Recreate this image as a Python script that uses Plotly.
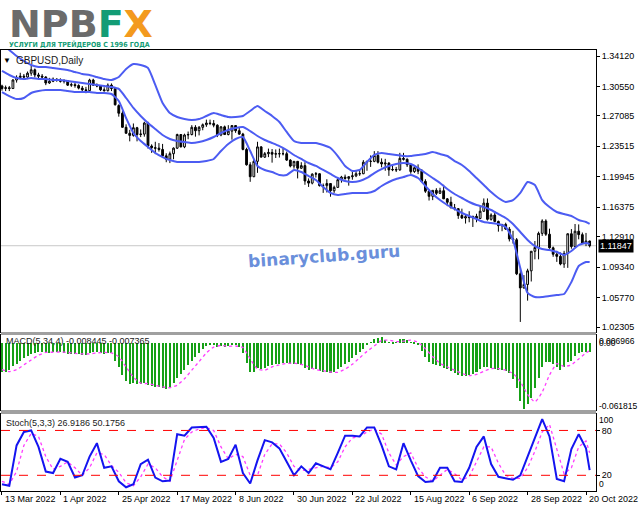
import plotly.graph_objects as go

# ---- data ----
bar_idx = list(range(162))
date_ticks = [0, 16, 32, 48, 64, 80, 96, 112, 128, 144, 160]
date_labels = ['13 Mar 2022', '1 Apr 2022', '25 Apr 2022', '17 May 2022', '8 Jun 2022', '30 Jun 2022',
               '22 Jul 2022', '15 Aug 2022', '6 Sep 2022', '28 Sep 2022', '20 Oct 2022']
price_ticks = [1.34120, 1.30550, 1.27085, 1.23515, 1.19945, 1.16375, 1.12910, 1.09340, 1.05770, 1.02305]
last_price = 1.11847

opens = [1.3060, 1.3030, 1.3040, 1.3030, 1.3130, 1.3160, 1.3175, 1.3165, 1.3210, 1.3250,
         1.3190, 1.3175, 1.3165, 1.3095, 1.3115, 1.3140, 1.3130, 1.3115, 1.3120, 1.3070,
         1.3075, 1.3065, 1.3035, 1.3015, 1.3005, 1.3130, 1.3070, 1.3060, 1.3015, 1.3005,
         1.3070, 1.3030, 1.2830, 1.2740, 1.2575, 1.2505, 1.2480, 1.2570, 1.2490, 1.2495,
         1.2625, 1.2355, 1.2335, 1.2330, 1.2315, 1.2240, 1.2200, 1.2265, 1.2330, 1.2490,
         1.2345, 1.2485, 1.2490, 1.2575, 1.2535, 1.2575, 1.2605, 1.2625, 1.2620, 1.2600,
         1.2485, 1.2580, 1.2490, 1.2530, 1.2595, 1.2535, 1.2495, 1.2315, 1.2135, 1.1995,
         1.2175, 1.2345, 1.2225, 1.2265, 1.2280, 1.2260, 1.2265, 1.2265, 1.2265, 1.2190,
         1.2120, 1.2175, 1.2095, 1.2125, 1.1945, 1.1920, 1.2025, 1.2030, 1.1890, 1.1890,
         1.1915, 1.1830, 1.1870, 1.1960, 1.1990, 1.1975, 1.1995, 1.2005, 1.2030, 1.2030,
         1.2165, 1.2175, 1.2175, 1.2245, 1.2165, 1.2145, 1.2155, 1.2075, 1.2080, 1.2075,
         1.2210, 1.2200, 1.2135, 1.2055, 1.2100, 1.2060, 1.1940, 1.1825, 1.1765, 1.1835,
         1.1800, 1.1830, 1.1735, 1.1695, 1.1630, 1.1620, 1.1540, 1.1510, 1.1525, 1.1515,
         1.1530, 1.1505, 1.1590, 1.1685, 1.1495, 1.1545, 1.1470, 1.1420, 1.1435, 1.1380,
         1.1265, 1.1255, 1.0855, 1.0690, 1.0730, 1.0890, 1.1120, 1.1165, 1.1330, 1.1475,
         1.1320, 1.1160, 1.1085, 1.1060, 1.0970, 1.1095, 1.1325, 1.1175, 1.1355, 1.1315,
         1.1215, 1.1240]
highs = [1.3075, 1.3065, 1.3060, 1.3140, 1.3185, 1.3215, 1.3200, 1.3230, 1.3300, 1.3265,
         1.3215, 1.3200, 1.3175, 1.3155, 1.3160, 1.3150, 1.3150, 1.3140, 1.3130, 1.3100,
         1.3095, 1.3080, 1.3060, 1.3050, 1.3145, 1.3145, 1.3090, 1.3070, 1.3045, 1.3090,
         1.3090, 1.3030, 1.2845, 1.2770, 1.2610, 1.2545, 1.2620, 1.2580, 1.2550, 1.2640,
         1.2640, 1.2375, 1.2405, 1.2390, 1.2380, 1.2270, 1.2290, 1.2340, 1.2500, 1.2495,
         1.2500, 1.2525, 1.2600, 1.2600, 1.2590, 1.2620, 1.2665, 1.2665, 1.2660, 1.2610,
         1.2590, 1.2595, 1.2600, 1.2600, 1.2600, 1.2575, 1.2510, 1.2335, 1.2165, 1.2205,
         1.2405, 1.2355, 1.2285, 1.2325, 1.2320, 1.2315, 1.2325, 1.2330, 1.2290, 1.2200,
         1.2180, 1.2180, 1.2165, 1.2165, 1.1975, 1.2035, 1.2050, 1.2035, 1.1915, 1.1965,
         1.1920, 1.1890, 1.1980, 1.2005, 1.2020, 1.2000, 1.2065, 1.2065, 1.2085, 1.2190,
         1.2180, 1.2245, 1.2295, 1.2295, 1.2210, 1.2205, 1.2165, 1.2125, 1.2110, 1.2275,
         1.2275, 1.2210, 1.2145, 1.2125, 1.2140, 1.2085, 1.1965, 1.1845, 1.1835, 1.1860,
         1.1865, 1.1900, 1.1745, 1.1760, 1.1675, 1.1625, 1.1620, 1.1550, 1.1590, 1.1535,
         1.1560, 1.1650, 1.1740, 1.1740, 1.1565, 1.1590, 1.1480, 1.1440, 1.1455, 1.1405,
         1.1360, 1.1275, 1.0930, 1.0840, 1.0915, 1.1120, 1.1240, 1.1350, 1.1495, 1.1495,
         1.1385, 1.1175, 1.1125, 1.1105, 1.1125, 1.1330, 1.1380, 1.1440, 1.1435, 1.1340,
         1.1335, 1.1245]
lows = [1.3005, 1.3000, 1.3000, 1.3025, 1.3100, 1.3140, 1.3130, 1.3140, 1.3180, 1.3160,
        1.3150, 1.3140, 1.3070, 1.3085, 1.3105, 1.3110, 1.3100, 1.3090, 1.3060, 1.3050,
        1.3040, 1.3020, 1.3000, 1.2975, 1.2995, 1.3060, 1.3045, 1.3000, 1.2995, 1.2995,
        1.3000, 1.2830, 1.2700, 1.2570, 1.2500, 1.2410, 1.2465, 1.2410, 1.2460, 1.2465,
        1.2325, 1.2275, 1.2260, 1.2290, 1.2235, 1.2165, 1.2155, 1.2200, 1.2320, 1.2340,
        1.2330, 1.2435, 1.2480, 1.2465, 1.2480, 1.2540, 1.2580, 1.2600, 1.2575, 1.2460,
        1.2470, 1.2485, 1.2480, 1.2430, 1.2510, 1.2485, 1.2305, 1.2125, 1.1935, 1.1990,
        1.2040, 1.2220, 1.2215, 1.2225, 1.2160, 1.2215, 1.2220, 1.2245, 1.2180, 1.2105,
        1.2090, 1.1975, 1.2085, 1.1900, 1.1875, 1.1905, 1.1985, 1.1880, 1.1805, 1.1810,
        1.1760, 1.1805, 1.1865, 1.1925, 1.1960, 1.1890, 1.1960, 1.1990, 1.2005, 1.2025,
        1.2065, 1.2110, 1.2165, 1.2150, 1.2105, 1.2065, 1.2005, 1.2060, 1.2050, 1.2065,
        1.2185, 1.2110, 1.2030, 1.2040, 1.2025, 1.1935, 1.1805, 1.1715, 1.1720, 1.1780,
        1.1795, 1.1735, 1.1650, 1.1625, 1.1600, 1.1500, 1.1500, 1.1445, 1.1460, 1.1405,
        1.1460, 1.1500, 1.1580, 1.1480, 1.1480, 1.1460, 1.1350, 1.1355, 1.1370, 1.1235,
        1.1210, 1.0840, 1.0290, 1.0680, 1.0540, 1.0765, 1.1025, 1.1025, 1.1300, 1.1300,
        1.1150, 1.1055, 1.0995, 1.0955, 1.0925, 1.0925, 1.1150, 1.1175, 1.1260, 1.1205,
        1.1180, 1.1165]
closes = [1.3030, 1.3040, 1.3030, 1.3130, 1.3160, 1.3175, 1.3165, 1.3210, 1.3250, 1.3190,
          1.3175, 1.3165, 1.3095, 1.3115, 1.3140, 1.3130, 1.3115, 1.3120, 1.3070, 1.3075,
          1.3065, 1.3035, 1.3015, 1.3005, 1.3130, 1.3070, 1.3060, 1.3015, 1.3005, 1.3070,
          1.3030, 1.2840, 1.2740, 1.2575, 1.2505, 1.2480, 1.2570, 1.2490, 1.2495, 1.2625,
          1.2355, 1.2335, 1.2330, 1.2315, 1.2240, 1.2200, 1.2265, 1.2330, 1.2490, 1.2345,
          1.2485, 1.2490, 1.2575, 1.2535, 1.2575, 1.2605, 1.2625, 1.2620, 1.2600, 1.2485,
          1.2580, 1.2490, 1.2530, 1.2595, 1.2535, 1.2495, 1.2315, 1.2135, 1.1995, 1.2175,
          1.2345, 1.2225, 1.2265, 1.2280, 1.2260, 1.2265, 1.2265, 1.2265, 1.2190, 1.2120,
          1.2175, 1.2095, 1.2125, 1.1945, 1.1920, 1.2025, 1.2030, 1.1890, 1.1890, 1.1915,
          1.1830, 1.1870, 1.1960, 1.1990, 1.1975, 1.1995, 1.2005, 1.2030, 1.2030, 1.2165,
          1.2175, 1.2175, 1.2245, 1.2165, 1.2145, 1.2155, 1.2075, 1.2080, 1.2075, 1.2210,
          1.2200, 1.2135, 1.2055, 1.2100, 1.2060, 1.1940, 1.1825, 1.1765, 1.1835, 1.1800,
          1.1830, 1.1735, 1.1695, 1.1630, 1.1620, 1.1540, 1.1510, 1.1525, 1.1515, 1.1530,
          1.1505, 1.1590, 1.1685, 1.1495, 1.1545, 1.1470, 1.1420, 1.1435, 1.1380, 1.1265,
          1.1255, 1.0855, 1.0690, 1.0730, 1.0890, 1.1120, 1.1165, 1.1330, 1.1475, 1.1320,
          1.1160, 1.1085, 1.1060, 1.0970, 1.1095, 1.1325, 1.1175, 1.1355, 1.1315, 1.1215,
          1.1240, 1.11847]

# bands / signal / stochastic read every second bar
band_idx = list(range(0, 162, 2)) + [161]
bb_upper = [1.3553, 1.3482, 1.3412, 1.3353, 1.3306, 1.3283, 1.3283, 1.3271, 1.3259, 1.3248,
            1.3224, 1.3201, 1.3189, 1.3165, 1.3142, 1.3130, 1.3165, 1.3259, 1.3318, 1.3306,
            1.3271, 1.3072, 1.2860, 1.2743, 1.2696, 1.2672, 1.2661, 1.2672, 1.2708, 1.2743,
            1.2719, 1.2696, 1.2696, 1.2708, 1.2766, 1.2825, 1.2766, 1.2708, 1.2637, 1.2520,
            1.2414, 1.2391, 1.2391, 1.2391, 1.2367, 1.2332, 1.2238, 1.2121, 1.2062, 1.2074,
            1.2168, 1.2250, 1.2273, 1.2261, 1.2250, 1.2238, 1.2238, 1.2250, 1.2261, 1.2285,
            1.2261, 1.2238, 1.2179, 1.2132, 1.2062, 1.1980, 1.1898, 1.1815, 1.1745, 1.1698,
            1.1721, 1.1804, 1.1933, 1.1898, 1.1721, 1.1639, 1.1581, 1.1557, 1.1534, 1.1487,
            1.1463, 1.1440]
bb_middle = [1.3236, 1.3189, 1.3154, 1.3142, 1.3154, 1.3142, 1.3142, 1.3130, 1.3130, 1.3119,
             1.3107, 1.3095, 1.3083, 1.3072, 1.3060, 1.3048, 1.3025, 1.2919, 1.2802, 1.2708,
             1.2625, 1.2555, 1.2485, 1.2438, 1.2414, 1.2402, 1.2391, 1.2402, 1.2426, 1.2461,
             1.2508, 1.2543, 1.2567, 1.2578, 1.2531, 1.2473, 1.2426, 1.2391, 1.2355, 1.2308,
             1.2250, 1.2203, 1.2156, 1.2121, 1.2074, 1.2027, 1.1980, 1.1944, 1.1933, 1.1944,
             1.1980, 1.2038, 1.2085, 1.2121, 1.2144, 1.2156, 1.2144, 1.2097, 1.2038, 1.1980,
             1.1921, 1.1851, 1.1792, 1.1745, 1.1698, 1.1663, 1.1639, 1.1604, 1.1557, 1.1510,
             1.1440, 1.1346, 1.1252, 1.1181, 1.1146, 1.1134, 1.1111, 1.1076, 1.1123, 1.1193,
             1.1217, 1.1205]
bb_lower = [1.2989, 1.2942, 1.2907, 1.2919, 1.2978, 1.3001, 1.3013, 1.3013, 1.3013, 1.3001,
            1.2989, 1.2989, 1.2989, 1.2978, 1.2978, 1.2966, 1.2884, 1.2684, 1.2508, 1.2414,
            1.2344, 1.2273, 1.2226, 1.2191, 1.2168, 1.2168, 1.2168, 1.2168, 1.2179, 1.2203,
            1.2297, 1.2379, 1.2438, 1.2461, 1.2297, 1.2121, 1.2074, 1.2050, 1.2015, 1.2015,
            1.2074, 1.2050, 1.2003, 1.1956, 1.1874, 1.1804, 1.1780, 1.1792, 1.1804, 1.1804,
            1.1804, 1.1827, 1.1886, 1.1933, 1.1968, 1.1991, 1.2015, 1.1980, 1.1886, 1.1792,
            1.1721, 1.1663, 1.1616, 1.1569, 1.1534, 1.1498, 1.1463, 1.1451, 1.1440, 1.1404,
            1.1252, 1.0923, 1.0630, 1.0583, 1.0583, 1.0594, 1.0606, 1.0618, 1.0759, 1.0947,
            1.0994, 1.0994]

macd_main = [-0.0274, -0.0272, -0.0256, -0.0220, -0.0202, -0.0166, -0.0138, -0.0120, -0.0102, -0.0093,
             -0.0084, -0.0084, -0.0093, -0.0093, -0.0084, -0.0084, -0.0084, -0.0093, -0.0102, -0.0102,
             -0.0102, -0.0102, -0.0111, -0.0111, -0.0093, -0.0084, -0.0084, -0.0093, -0.0102, -0.0093,
             -0.0093, -0.0166, -0.0229, -0.0301, -0.0356, -0.0383, -0.0374, -0.0383, -0.0383, -0.0374,
             -0.0392, -0.0401, -0.0410, -0.0410, -0.0419, -0.0428, -0.0410, -0.0374, -0.0328, -0.0292,
             -0.0256, -0.0211, -0.0166, -0.0129, -0.0093, -0.0057, -0.0030, -0.0021, -0.0021, -0.0039,
             -0.0030, -0.0039, -0.0030, -0.0021, -0.0021, -0.0039, -0.0093, -0.0184, -0.0274, -0.0274,
             -0.0238, -0.0247, -0.0238, -0.0220, -0.0211, -0.0202, -0.0193, -0.0184, -0.0184, -0.0202,
             -0.0193, -0.0202, -0.0211, -0.0238, -0.0256, -0.0247, -0.0247, -0.0265, -0.0274, -0.0274,
             -0.0283, -0.0274, -0.0247, -0.0229, -0.0202, -0.0175, -0.0138, -0.0111, -0.0084, -0.0057,
             -0.0021, 0.0006, 0.0033, 0.0045, 0.0050, 0.0024, 0.0006, -0.0003, 0.0006, 0.0033,
             0.0033, 0.0024, 0.0006, -0.0003, -0.0021, -0.0075, -0.0129, -0.0175, -0.0193, -0.0211,
             -0.0220, -0.0238, -0.0247, -0.0265, -0.0283, -0.0301, -0.0310, -0.0310, -0.0301, -0.0292,
             -0.0274, -0.0247, -0.0229, -0.0229, -0.0238, -0.0247, -0.0256, -0.0256, -0.0265, -0.0283,
             -0.0337, -0.0419, -0.0537, -0.0618, -0.0573, -0.0510, -0.0419, -0.0328, -0.0229, -0.0175,
             -0.0175, -0.0202, -0.0229, -0.0256, -0.0229, -0.0175, -0.0166, -0.0120, -0.0093, -0.0084,
             -0.0084, -0.008445]
macd_signal = [-0.0250, -0.0268, -0.0250, -0.0205, -0.0160, -0.0115, -0.0090, -0.0088, -0.0086, -0.0090,
               -0.0098, -0.0104, -0.0104, -0.0094, -0.0090, -0.0095, -0.0130, -0.0225, -0.0320, -0.0375,
               -0.0380, -0.0395, -0.0410, -0.0418, -0.0395, -0.0335, -0.0255, -0.0175, -0.0095, -0.0040,
               -0.0025, -0.0033, -0.0030, -0.0045, -0.0150, -0.0245, -0.0255, -0.0225, -0.0205, -0.0192,
               -0.0190, -0.0200, -0.0225, -0.0250, -0.0260, -0.0272, -0.0275, -0.0245, -0.0200, -0.0140,
               -0.0080, -0.0030, 0.0020, 0.0025, 0.0010, 0.0015, 0.0025, 0.0005, -0.0055, -0.0130,
               -0.0190, -0.0225, -0.0255, -0.0285, -0.0305, -0.0295, -0.0265, -0.0240, -0.0240, -0.0255,
               -0.0285, -0.0360, -0.0480, -0.0550, -0.0460, -0.0300, -0.0195, -0.0220, -0.0205, -0.0150,
               -0.0095, -0.007365]

stoch_k = [8, 6, 60, 78, 80, 58, 25, 23, 42, 38,
           17, 20, 45, 63, 30, 32, 12, 4, 8, 35,
           41, 17, 12, 13, 75, 73, 84, 85, 85, 70,
           38, 42, 61, 23, 9, 40, 67, 64, 56, 38,
           20, 32, 23, 36, 32, 28, 50, 73, 73, 72,
           84, 84, 60, 32, 28, 63, 40, 19, 11, 12,
           30, 30, 12, 11, 30, 58, 72, 35, 18, 16,
           14, 20, 45, 70, 95, 72, 15, 12, 55, 75,
           56, 26.9186]
stoch_d = [12, 8, 25, 60, 76, 72, 45, 28, 32, 38,
           30, 20, 30, 50, 48, 33, 24, 10, 6, 18,
           35, 30, 18, 12, 40, 68, 78, 82, 84, 80,
           58, 42, 48, 45, 20, 20, 48, 62, 62, 50,
           32, 26, 28, 30, 32, 30, 38, 58, 70, 72,
           78, 82, 75, 50, 34, 45, 50, 30, 18, 12,
           20, 28, 22, 14, 18, 38, 58, 58, 36, 20,
           16, 16, 30, 52, 78, 88, 55, 22, 30, 58,
           66, 50.1756]

# ---- figure ----
BAND_COL = '#4c5cf2'
LBL_FONT = 'Liberation Sans, Arial, sans-serif'

fig = go.Figure()

fig.add_trace(go.Candlestick(
    x=bar_idx, open=opens, high=highs, low=lows, close=closes, xaxis='x', yaxis='y',
    increasing=dict(line=dict(color='black', width=1), fillcolor='white'),
    decreasing=dict(line=dict(color='black', width=1), fillcolor='black'),
    whiskerwidth=0, hoverinfo='skip', showlegend=False))

for band in (bb_upper, bb_middle, bb_lower):
    fig.add_trace(go.Scatter(x=band_idx, y=band, mode='lines', xaxis='x', yaxis='y',
                             line=dict(color=BAND_COL, width=2, shape='spline', smoothing=0.5),
                             hoverinfo='skip', showlegend=False))

fig.add_trace(go.Bar(x=bar_idx, y=macd_main, xaxis='x2', yaxis='y2', width=0.55,
                     marker=dict(color='#16a016', line=dict(width=0)), hoverinfo='skip', showlegend=False))
fig.add_trace(go.Scatter(x=band_idx, y=macd_signal, mode='lines', xaxis='x2', yaxis='y2',
                         line=dict(color='#ff3cff', width=1.3, dash='dot', shape='spline', smoothing=0.5),
                         hoverinfo='skip', showlegend=False))

fig.add_trace(go.Scatter(x=band_idx, y=stoch_d, mode='lines', xaxis='x3', yaxis='y3',
                         line=dict(color='#ff3cff', width=1.3, dash='dot'),
                         hoverinfo='skip', showlegend=False))
fig.add_trace(go.Scatter(x=band_idx, y=stoch_k, mode='lines', xaxis='x3', yaxis='y3',
                         line=dict(color='#1414f0', width=2),
                         hoverinfo='skip', showlegend=False))

x_range = [-0.27, 162.74]
frame = dict(showgrid=False, zeroline=False, showline=True, mirror=True, linecolor='black', linewidth=1)

fig.update_layout(
    width=639, height=508, margin=dict(l=1, r=43, t=50, b=17),
    paper_bgcolor='white', plot_bgcolor='white', showlegend=False, hovermode=False,
    bargap=0,
    xaxis=dict(domain=[0, 1], anchor='y', range=x_range, showticklabels=False, ticks='',
               rangeslider=dict(visible=False), **frame),
    xaxis2=dict(domain=[0, 1], anchor='y2', range=x_range, matches='x', showticklabels=False, ticks='', **frame),
    xaxis3=dict(domain=[0, 1], anchor='y3', range=x_range, matches='x', showticklabels=False,
                ticks='outside', ticklen=3, tickcolor='black', tickvals=date_ticks, **frame),
    yaxis=dict(domain=[0.3605, 1], anchor='x', range=[1.01718, 1.34824], side='right',
               tickvals=price_ticks, tickformat='.5f', ticks='outside', ticklen=3, tickcolor='black',
               tickfont=dict(family=LBL_FONT, size=9, color='black'), **frame),
    yaxis2=dict(domain=[0.1837, 0.3537], anchor='x2', range=[-0.0625, 0.0072], side='right',
                showticklabels=False, ticks='', **frame),
    yaxis3=dict(domain=[0, 0.1746], anchor='x3', range=[-1, 102], side='right',
                tickvals=[80, 20], ticktext=['80', '20'], ticks='outside', ticklen=3, tickcolor='black',
                tickfont=dict(family=LBL_FONT, size=9, color='black'), **frame),
)

shapes = [
    # panel separators
    dict(type='rect', xref='paper', yref='paper', x0=0, x1=1, y0=0.3537, y1=0.3605,
         fillcolor='#a0a0a0', line=dict(width=0)),
    dict(type='rect', xref='paper', yref='paper', x0=0, x1=1, y0=0.1746, y1=0.1837,
         fillcolor='#a0a0a0', line=dict(width=0)),
    # current price line
    dict(type='line', xref='paper', yref='y', x0=0, x1=1, y0=last_price, y1=last_price,
         line=dict(color='#c8c8c8', width=1), layer='below'),
    # stochastic levels
    dict(type='line', xref='paper', yref='y3', x0=0, x1=1, y0=80, y1=80,
         line=dict(color='#ff0000', width=1, dash='dash')),
    dict(type='line', xref='paper', yref='y3', x0=0, x1=1, y0=20, y1=20,
         line=dict(color='#ff0000', width=1, dash='dash')),
]
fig.update_layout(shapes=shapes)

ann = []
# logo: one text run, F and X coloured
logo_txt = ("<b>NPB<span style='color:#139c75'>F</span>"
            "<span style='color:#f39a1e'>X</span></b>")
ann.append(dict(text=logo_txt, x=0.010, y=1.0590, xref='paper', yref='paper',
                xanchor='left', yanchor='middle', showarrow=False,
                font=dict(family='DejaVu Sans, Arial Black, sans-serif', size=38, color='#6b6b6b')))
ann.append(dict(text='<b>УСЛУГИ ДЛЯ ТРЕЙДЕРОВ С 1996 ГОДА</b>', x=0.010, y=1.0136,
                xref='paper', yref='paper', xanchor='left', yanchor='middle', showarrow=False,
                font=dict(family='DejaVu Sans Condensed, Liberation Sans Narrow, Liberation Sans',
                          size=7, color='#139c75')))

# panel captions
ann.append(dict(text='▼', x=0.0101, y=0.9773, xref='paper', yref='paper', xanchor='center',
                yanchor='middle', showarrow=False, font=dict(family=LBL_FONT, size=8, color='black')))
ann.append(dict(text='GBPUSD,Daily', x=0.0218, y=0.9773, xref='paper', yref='paper', xanchor='left',
                yanchor='middle', showarrow=False, font=dict(family=LBL_FONT, size=10, color='#1a1a1a')))
ann.append(dict(text='MACD(5,34,4) -0.008445 -0.007365', x=0.005, y=0.3401, xref='paper', yref='paper',
                xanchor='left', yanchor='middle', showarrow=False,
                font=dict(family=LBL_FONT, size=9, color='#1a1a1a')))
ann.append(dict(text='Stoch(5,3,3) 26.9186 50.1756', x=0.005, y=0.1542, xref='paper', yref='paper',
                xanchor='left', yanchor='middle', showarrow=False,
                font=dict(family=LBL_FONT, size=9, color='#1a1a1a')))

# right-side scale labels for the sub-windows
for txt, yp in [('0.006966', 0.3401), ('0.00', 0.3356), ('-0.061815', 0.1927), ('100', 0.1610), ('0', 0.0159)]:
    ann.append(dict(text=txt, x=1, y=yp, xref='paper', yref='paper', xanchor='left', yanchor='middle',
                    xshift=1, showarrow=False, font=dict(family=LBL_FONT, size=8.5, color='black')))

# current price tag
ann.append(dict(text='1.11847', x=1, y=last_price, xref='paper', yref='y', xanchor='left',
                yanchor='middle', xshift=2, showarrow=False, bgcolor='black', borderpad=1,
                font=dict(family=LBL_FONT, size=9, color='white')))

# date labels
for pos, lbl in zip(date_ticks, date_labels):
    ann.append(dict(text=lbl, x=pos, y=0, xref='x3', yref='paper', xanchor='left', yanchor='top',
                    xshift=1, yshift=-1, showarrow=False,
                    font=dict(family=LBL_FONT, size=9, color='black')))

# watermark
ann.append(dict(text='<b>binaryclub.guru</b>', x=0.5429, y=0.5329, xref='paper', yref='paper',
                xanchor='center', yanchor='middle', showarrow=False, textangle=-4,
                font=dict(family='DejaVu Sans, Verdana, sans-serif', size=17, color='#6a8fdb')))

fig.update_layout(annotations=ann)

# the page's default body margin would shift the whole figure by 8px
fig.write_html("out.html", config={'displayModeBar': False},
               post_script="document.body.style.margin='0px';")
